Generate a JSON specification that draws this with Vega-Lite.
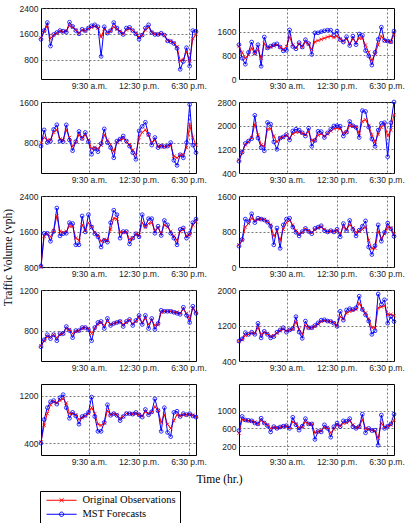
{
"$schema": "https://vega.github.io/schema/vega-lite/v6.json",
"background": "white",
"padding": {"left": 1, "top": 3, "right": 2, "bottom": 1},
"data": {"values": [
{"p":26,"i":0,"o":1480,"f":1430},{"p":26,"i":1,"o":1680,"f":1700},{"p":26,"i":2,"o":1850,"f":1950},{"p":26,"i":3,"o":1450,"f":1220},{"p":26,"i":4,"o":1560,"f":1580},{"p":26,"i":5,"o":1620,"f":1640},{"p":26,"i":6,"o":1680,"f":1700},{"p":26,"i":7,"o":1660,"f":1680},{"p":26,"i":8,"o":1700,"f":1650},{"p":26,"i":9,"o":1850,"f":1960},
{"p":26,"i":10,"o":1800,"f":1830},{"p":26,"i":11,"o":1720,"f":1700},{"p":26,"i":12,"o":1620,"f":1600},{"p":26,"i":13,"o":1720,"f":1740},{"p":26,"i":14,"o":1690,"f":1700},{"p":26,"i":15,"o":1760,"f":1780},{"p":26,"i":16,"o":1800,"f":1850},{"p":26,"i":17,"o":1830,"f":1880},{"p":26,"i":18,"o":1780,"f":1820},{"p":26,"i":19,"o":1500,"f":900},
{"p":26,"i":20,"o":1750,"f":1820},{"p":26,"i":21,"o":1640,"f":1620},{"p":26,"i":22,"o":1680,"f":1700},{"p":26,"i":23,"o":1820,"f":1950},{"p":26,"i":24,"o":1740,"f":1780},{"p":26,"i":25,"o":1680,"f":1650},{"p":26,"i":26,"o":1600,"f":1580},{"p":26,"i":27,"o":1720,"f":1780},{"p":26,"i":28,"o":1760,"f":1800},{"p":26,"i":29,"o":1700,"f":1700},
{"p":26,"i":30,"o":1620,"f":1600},{"p":26,"i":31,"o":1500,"f":1430},{"p":26,"i":32,"o":1560,"f":1560},{"p":26,"i":33,"o":1720,"f":1780},{"p":26,"i":34,"o":1800,"f":1880},{"p":26,"i":35,"o":1640,"f":1640},{"p":26,"i":36,"o":1590,"f":1580},{"p":26,"i":37,"o":1580,"f":1580},{"p":26,"i":38,"o":1600,"f":1620},{"p":26,"i":39,"o":1560,"f":1560},
{"p":26,"i":40,"o":1400,"f":1380},{"p":26,"i":41,"o":1370,"f":1360},{"p":26,"i":42,"o":1320,"f":1300},{"p":26,"i":43,"o":1200,"f":1150},{"p":26,"i":44,"o":760,"f":500},{"p":26,"i":45,"o":800,"f":740},{"p":26,"i":46,"o":1050,"f":1170},{"p":26,"i":47,"o":760,"f":600},{"p":26,"i":48,"o":1450,"f":1700},{"p":26,"i":49,"o":1580,"f":1680},
{"p":196,"i":0,"o":1100,"f":1160},{"p":196,"i":1,"o":900,"f":700},{"p":196,"i":2,"o":700,"f":500},{"p":196,"i":3,"o":820,"f":900},{"p":196,"i":4,"o":1050,"f":1250},{"p":196,"i":5,"o":860,"f":880},{"p":196,"i":6,"o":1000,"f":1160},{"p":196,"i":7,"o":700,"f":430},{"p":196,"i":8,"o":1200,"f":1420},{"p":196,"i":9,"o":1050,"f":1050},
{"p":196,"i":10,"o":1080,"f":1110},{"p":196,"i":11,"o":1120,"f":1160},{"p":196,"i":12,"o":1150,"f":1190},{"p":196,"i":13,"o":1080,"f":1080},{"p":196,"i":14,"o":1000,"f":950},{"p":196,"i":15,"o":1100,"f":970},{"p":196,"i":16,"o":1420,"f":1660},{"p":196,"i":17,"o":1150,"f":1100},{"p":196,"i":18,"o":1050,"f":1020},{"p":196,"i":19,"o":1180,"f":1230},
{"p":196,"i":20,"o":1080,"f":1080},{"p":196,"i":21,"o":1250,"f":1330},{"p":196,"i":22,"o":1180,"f":1200},{"p":196,"i":23,"o":1000,"f":830},{"p":196,"i":24,"o":1260,"f":1560},{"p":196,"i":25,"o":1300,"f":1560},{"p":196,"i":26,"o":1340,"f":1600},{"p":196,"i":27,"o":1380,"f":1630},{"p":196,"i":28,"o":1420,"f":1650},{"p":196,"i":29,"o":1450,"f":1650},
{"p":196,"i":30,"o":1400,"f":1500},{"p":196,"i":31,"o":1450,"f":1620},{"p":196,"i":32,"o":1350,"f":1330},{"p":196,"i":33,"o":1280,"f":1250},{"p":196,"i":34,"o":1350,"f":1430},{"p":196,"i":35,"o":1200,"f":1130},{"p":196,"i":36,"o":1350,"f":1450},{"p":196,"i":37,"o":1250,"f":1160},{"p":196,"i":38,"o":1380,"f":1520},{"p":196,"i":39,"o":1380,"f":1480},
{"p":196,"i":40,"o":1150,"f":960},{"p":196,"i":41,"o":900,"f":780},{"p":196,"i":42,"o":620,"f":470},{"p":196,"i":43,"o":850,"f":900},{"p":196,"i":44,"o":1150,"f":1340},{"p":196,"i":45,"o":1450,"f":1750},{"p":196,"i":46,"o":1300,"f":1300},{"p":196,"i":47,"o":1280,"f":1280},{"p":196,"i":48,"o":1250,"f":1260},{"p":196,"i":49,"o":1500,"f":1620},
{"p":17,"i":0,"o":800,"f":730},{"p":17,"i":1,"o":900,"f":1050},{"p":17,"i":2,"o":850,"f":800},{"p":17,"i":3,"o":850,"f":830},{"p":17,"i":4,"o":1000,"f":1060},{"p":17,"i":5,"o":1050,"f":1150},{"p":17,"i":6,"o":870,"f":830},{"p":17,"i":7,"o":850,"f":820},{"p":17,"i":8,"o":1050,"f":1150},{"p":17,"i":9,"o":900,"f":850},
{"p":17,"i":10,"o":720,"f":640},{"p":17,"i":11,"o":820,"f":820},{"p":17,"i":12,"o":950,"f":1020},{"p":17,"i":13,"o":880,"f":880},{"p":17,"i":14,"o":950,"f":1000},{"p":17,"i":15,"o":850,"f":820},{"p":17,"i":16,"o":680,"f":570},{"p":17,"i":17,"o":700,"f":680},{"p":17,"i":18,"o":680,"f":620},{"p":17,"i":19,"o":750,"f":780},
{"p":17,"i":20,"o":950,"f":1070},{"p":17,"i":21,"o":850,"f":800},{"p":17,"i":22,"o":760,"f":700},{"p":17,"i":23,"o":620,"f":500},{"p":17,"i":24,"o":800,"f":830},{"p":17,"i":25,"o":850,"f":870},{"p":17,"i":26,"o":880,"f":930},{"p":17,"i":27,"o":820,"f":830},{"p":17,"i":28,"o":760,"f":730},{"p":17,"i":29,"o":650,"f":600},
{"p":17,"i":30,"o":560,"f":470},{"p":17,"i":31,"o":900,"f":1030},{"p":17,"i":32,"o":1000,"f":1120},{"p":17,"i":33,"o":1050,"f":1200},{"p":17,"i":34,"o":950,"f":960},{"p":17,"i":35,"o":800,"f":750},{"p":17,"i":36,"o":850,"f":900},{"p":17,"i":37,"o":720,"f":700},{"p":17,"i":38,"o":740,"f":730},{"p":17,"i":39,"o":720,"f":720},
{"p":17,"i":40,"o":730,"f":730},{"p":17,"i":41,"o":750,"f":800},{"p":17,"i":42,"o":530,"f":450},{"p":17,"i":43,"o":500,"f":350},{"p":17,"i":44,"o":550,"f":560},{"p":17,"i":45,"o":560,"f":500},{"p":17,"i":46,"o":700,"f":800},{"p":17,"i":47,"o":1150,"f":1550},{"p":17,"i":48,"o":900,"f":750},{"p":17,"i":49,"o":750,"f":600},
{"p":183,"i":0,"o":850,"f":800},{"p":183,"i":1,"o":1100,"f":1100},{"p":183,"i":2,"o":1350,"f":1400},{"p":183,"i":3,"o":1450,"f":1480},{"p":183,"i":4,"o":1600,"f":1560},{"p":183,"i":5,"o":2050,"f":2350},{"p":183,"i":6,"o":1700,"f":1580},{"p":183,"i":7,"o":1350,"f":1260},{"p":183,"i":8,"o":1300,"f":1150},{"p":183,"i":9,"o":1880,"f":2110},
{"p":183,"i":10,"o":1900,"f":2050},{"p":183,"i":11,"o":1650,"f":1450},{"p":183,"i":12,"o":1450,"f":1200},{"p":183,"i":13,"o":1580,"f":1580},{"p":183,"i":14,"o":1600,"f":1620},{"p":183,"i":15,"o":1680,"f":1700},{"p":183,"i":16,"o":1580,"f":1520},{"p":183,"i":17,"o":1720,"f":1820},{"p":183,"i":18,"o":1780,"f":1880},{"p":183,"i":19,"o":1780,"f":1850},
{"p":183,"i":20,"o":1750,"f":1760},{"p":183,"i":21,"o":1700,"f":1650},{"p":183,"i":22,"o":1800,"f":1920},{"p":183,"i":23,"o":1500,"f":1300},{"p":183,"i":24,"o":1500,"f":1500},{"p":183,"i":25,"o":1680,"f":1810},{"p":183,"i":26,"o":1720,"f":1800},{"p":183,"i":27,"o":1650,"f":1600},{"p":183,"i":28,"o":1720,"f":1760},{"p":183,"i":29,"o":1820,"f":1880},
{"p":183,"i":30,"o":1900,"f":1990},{"p":183,"i":31,"o":1920,"f":2000},{"p":183,"i":32,"o":1900,"f":1980},{"p":183,"i":33,"o":1750,"f":1650},{"p":183,"i":34,"o":1780,"f":1780},{"p":183,"i":35,"o":2000,"f":2140},{"p":183,"i":36,"o":1980,"f":2000},{"p":183,"i":37,"o":1950,"f":1940},{"p":183,"i":38,"o":1750,"f":1600},{"p":183,"i":39,"o":2150,"f":2510},
{"p":183,"i":40,"o":2200,"f":2480},{"p":183,"i":41,"o":2000,"f":1950},{"p":183,"i":42,"o":1700,"f":1550},{"p":183,"i":43,"o":1450,"f":1300},{"p":183,"i":44,"o":1700,"f":1850},{"p":183,"i":45,"o":1950,"f":2080},{"p":183,"i":46,"o":2050,"f":2100},{"p":183,"i":47,"o":1650,"f":950},{"p":183,"i":48,"o":1850,"f":2100},{"p":183,"i":49,"o":2370,"f":2800},
{"p":232,"i":0,"o":800,"f":820},{"p":232,"i":1,"o":1500,"f":1560},{"p":232,"i":2,"o":1550,"f":1560},{"p":232,"i":3,"o":1480,"f":1380},{"p":232,"i":4,"o":1620,"f":1600},{"p":232,"i":5,"o":1950,"f":2130},{"p":232,"i":6,"o":1600,"f":1500},{"p":232,"i":7,"o":1580,"f":1550},{"p":232,"i":8,"o":1600,"f":1560},{"p":232,"i":9,"o":1720,"f":1800},
{"p":232,"i":10,"o":1720,"f":1780},{"p":232,"i":11,"o":1450,"f":1300},{"p":232,"i":12,"o":1400,"f":1300},{"p":232,"i":13,"o":1750,"f":1950},{"p":232,"i":14,"o":1620,"f":1590},{"p":232,"i":15,"o":1800,"f":1980},{"p":232,"i":16,"o":1700,"f":1700},{"p":232,"i":17,"o":1580,"f":1550},{"p":232,"i":18,"o":1520,"f":1480},{"p":232,"i":19,"o":1380,"f":1250},
{"p":232,"i":20,"o":1420,"f":1400},{"p":232,"i":21,"o":1400,"f":1360},{"p":232,"i":22,"o":1650,"f":1800},{"p":232,"i":23,"o":1900,"f":2080},{"p":232,"i":24,"o":1880,"f":1980},{"p":232,"i":25,"o":1580,"f":1450},{"p":232,"i":26,"o":1580,"f":1600},{"p":232,"i":27,"o":1590,"f":1600},{"p":232,"i":28,"o":1420,"f":1320},{"p":232,"i":29,"o":1450,"f":1450},
{"p":232,"i":30,"o":1550,"f":1550},{"p":232,"i":31,"o":1520,"f":1480},{"p":232,"i":32,"o":1800,"f":1980},{"p":232,"i":33,"o":1700,"f":1720},{"p":232,"i":34,"o":1780,"f":1890},{"p":232,"i":35,"o":1800,"f":1890},{"p":232,"i":36,"o":1620,"f":1560},{"p":232,"i":37,"o":1680,"f":1720},{"p":232,"i":38,"o":1560,"f":1510},{"p":232,"i":39,"o":1750,"f":1850},
{"p":232,"i":40,"o":1700,"f":1750},{"p":232,"i":41,"o":1600,"f":1560},{"p":232,"i":42,"o":1500,"f":1450},{"p":232,"i":43,"o":1400,"f":1300},{"p":232,"i":44,"o":1600,"f":1650},{"p":232,"i":45,"o":1650,"f":1680},{"p":232,"i":46,"o":1500,"f":1450},{"p":232,"i":47,"o":1520,"f":1560},{"p":232,"i":48,"o":1750,"f":1800},{"p":232,"i":49,"o":1820,"f":1880},
{"p":49,"i":0,"o":500,"f":470},{"p":49,"i":1,"o":600,"f":620},{"p":49,"i":2,"o":900,"f":1080},{"p":49,"i":3,"o":980,"f":1020},{"p":49,"i":4,"o":1100,"f":1200},{"p":49,"i":5,"o":1050,"f":1000},{"p":49,"i":6,"o":1070,"f":1100},{"p":49,"i":7,"o":1080,"f":1080},{"p":49,"i":8,"o":1070,"f":1060},{"p":49,"i":9,"o":1030,"f":1010},
{"p":49,"i":10,"o":950,"f":920},{"p":49,"i":11,"o":700,"f":500},{"p":49,"i":12,"o":800,"f":880},{"p":49,"i":13,"o":600,"f":420},{"p":49,"i":14,"o":850,"f":950},{"p":49,"i":15,"o":1000,"f":1080},{"p":49,"i":16,"o":1050,"f":1100},{"p":49,"i":17,"o":950,"f":900},{"p":49,"i":18,"o":820,"f":780},{"p":49,"i":19,"o":750,"f":700},
{"p":49,"i":20,"o":780,"f":800},{"p":49,"i":21,"o":850,"f":870},{"p":49,"i":22,"o":820,"f":800},{"p":49,"i":23,"o":780,"f":750},{"p":49,"i":24,"o":840,"f":870},{"p":49,"i":25,"o":880,"f":900},{"p":49,"i":26,"o":900,"f":930},{"p":49,"i":27,"o":850,"f":820},{"p":49,"i":28,"o":800,"f":790},{"p":49,"i":29,"o":810,"f":820},
{"p":49,"i":30,"o":800,"f":790},{"p":49,"i":31,"o":830,"f":850},{"p":49,"i":32,"o":750,"f":680},{"p":49,"i":33,"o":900,"f":980},{"p":49,"i":34,"o":850,"f":820},{"p":49,"i":35,"o":950,"f":1050},{"p":49,"i":36,"o":880,"f":850},{"p":49,"i":37,"o":780,"f":700},{"p":49,"i":38,"o":800,"f":830},{"p":49,"i":39,"o":850,"f":920},
{"p":49,"i":40,"o":900,"f":1040},{"p":49,"i":41,"o":600,"f":450},{"p":49,"i":42,"o":420,"f":280},{"p":49,"i":43,"o":420,"f":480},{"p":49,"i":44,"o":800,"f":950},{"p":49,"i":45,"o":650,"f":580},{"p":49,"i":46,"o":750,"f":780},{"p":49,"i":47,"o":900,"f":990},{"p":49,"i":48,"o":880,"f":860},{"p":49,"i":49,"o":750,"f":690},
{"p":166,"i":0,"o":650,"f":640},{"p":166,"i":1,"o":700,"f":710},{"p":166,"i":2,"o":740,"f":760},{"p":166,"i":3,"o":740,"f":720},{"p":166,"i":4,"o":760,"f":760},{"p":166,"i":5,"o":730,"f":700},{"p":166,"i":6,"o":760,"f":770},{"p":166,"i":7,"o":770,"f":770},{"p":166,"i":8,"o":820,"f":840},{"p":166,"i":9,"o":810,"f":800},
{"p":166,"i":10,"o":770,"f":730},{"p":166,"i":11,"o":790,"f":800},{"p":166,"i":12,"o":800,"f":800},{"p":166,"i":13,"o":820,"f":830},{"p":166,"i":14,"o":830,"f":830},{"p":166,"i":15,"o":820,"f":810},{"p":166,"i":16,"o":770,"f":700},{"p":166,"i":17,"o":820,"f":830},{"p":166,"i":18,"o":860,"f":880},{"p":166,"i":19,"o":880,"f":890},
{"p":166,"i":20,"o":850,"f":820},{"p":166,"i":21,"o":890,"f":920},{"p":166,"i":22,"o":860,"f":850},{"p":166,"i":23,"o":870,"f":870},{"p":166,"i":24,"o":880,"f":880},{"p":166,"i":25,"o":890,"f":890},{"p":166,"i":26,"o":860,"f":840},{"p":166,"i":27,"o":880,"f":890},{"p":166,"i":28,"o":900,"f":910},{"p":166,"i":29,"o":870,"f":850},
{"p":166,"i":30,"o":890,"f":900},{"p":166,"i":31,"o":930,"f":950},{"p":166,"i":32,"o":880,"f":860},{"p":166,"i":33,"o":920,"f":950},{"p":166,"i":34,"o":860,"f":820},{"p":166,"i":35,"o":900,"f":920},{"p":166,"i":36,"o":850,"f":810},{"p":166,"i":37,"o":860,"f":870},{"p":166,"i":38,"o":980,"f":1000},{"p":166,"i":39,"o":990,"f":990},
{"p":166,"i":40,"o":990,"f":990},{"p":166,"i":41,"o":990,"f":990},{"p":166,"i":42,"o":980,"f":980},{"p":166,"i":43,"o":980,"f":970},{"p":166,"i":44,"o":970,"f":960},{"p":166,"i":45,"o":1010,"f":1030},{"p":166,"i":46,"o":970,"f":950},{"p":166,"i":47,"o":920,"f":880},{"p":166,"i":48,"o":1020,"f":1040},{"p":166,"i":49,"o":980,"f":970},
{"p":193,"i":0,"o":840,"f":850},{"p":193,"i":1,"o":880,"f":900},{"p":193,"i":2,"o":980,"f":1040},{"p":193,"i":3,"o":1000,"f":1000},{"p":193,"i":4,"o":1030,"f":1050},{"p":193,"i":5,"o":1020,"f":1000},{"p":193,"i":6,"o":1150,"f":1250},{"p":193,"i":7,"o":1000,"f":920},{"p":193,"i":8,"o":1050,"f":1070},{"p":193,"i":9,"o":1020,"f":1000},
{"p":193,"i":10,"o":960,"f":920},{"p":193,"i":11,"o":970,"f":950},{"p":193,"i":12,"o":1030,"f":1050},{"p":193,"i":13,"o":1080,"f":1100},{"p":193,"i":14,"o":1120,"f":1150},{"p":193,"i":15,"o":1080,"f":1050},{"p":193,"i":16,"o":1100,"f":1100},{"p":193,"i":17,"o":1120,"f":1130},{"p":193,"i":18,"o":1280,"f":1400},{"p":193,"i":19,"o":1120,"f":1050},
{"p":193,"i":20,"o":1000,"f":910},{"p":193,"i":21,"o":1200,"f":1300},{"p":193,"i":22,"o":1150,"f":1150},{"p":193,"i":23,"o":1150,"f":1150},{"p":193,"i":24,"o":1180,"f":1200},{"p":193,"i":25,"o":1230,"f":1260},{"p":193,"i":26,"o":1290,"f":1320},{"p":193,"i":27,"o":1310,"f":1330},{"p":193,"i":28,"o":1300,"f":1300},{"p":193,"i":29,"o":1290,"f":1290},
{"p":193,"i":30,"o":1260,"f":1250},{"p":193,"i":31,"o":1200,"f":1180},{"p":193,"i":32,"o":1400,"f":1520},{"p":193,"i":33,"o":1350,"f":1320},{"p":193,"i":34,"o":1480,"f":1550},{"p":193,"i":35,"o":1520,"f":1580},{"p":193,"i":36,"o":1540,"f":1560},{"p":193,"i":37,"o":1560,"f":1600},{"p":193,"i":38,"o":1700,"f":1860},{"p":193,"i":39,"o":1580,"f":1560},
{"p":193,"i":40,"o":1480,"f":1440},{"p":193,"i":41,"o":1350,"f":1300},{"p":193,"i":42,"o":1150,"f":1000},{"p":193,"i":43,"o":1150,"f":1080},{"p":193,"i":44,"o":1600,"f":1910},{"p":193,"i":45,"o":1620,"f":1680},{"p":193,"i":46,"o":1650,"f":1780},{"p":193,"i":47,"o":1450,"f":1250},{"p":193,"i":48,"o":1450,"f":1400},{"p":193,"i":49,"o":1420,"f":1290},
{"p":439,"i":0,"o":420,"f":400},{"p":439,"i":1,"o":700,"f":800},{"p":439,"i":2,"o":900,"f":1000},{"p":439,"i":3,"o":1050,"f":1100},{"p":439,"i":4,"o":1100,"f":1120},{"p":439,"i":5,"o":1080,"f":1060},{"p":439,"i":6,"o":1120,"f":1170},{"p":439,"i":7,"o":1150,"f":1220},{"p":439,"i":8,"o":1080,"f":1000},{"p":439,"i":9,"o":900,"f":820},
{"p":439,"i":10,"o":900,"f":920},{"p":439,"i":11,"o":880,"f":860},{"p":439,"i":12,"o":800,"f":720},{"p":439,"i":13,"o":830,"f":850},{"p":439,"i":14,"o":860,"f":870},{"p":439,"i":15,"o":900,"f":920},{"p":439,"i":16,"o":1000,"f":1180},{"p":439,"i":17,"o":900,"f":850},{"p":439,"i":18,"o":720,"f":600},{"p":439,"i":19,"o":700,"f":600},
{"p":439,"i":20,"o":740,"f":750},{"p":439,"i":21,"o":950,"f":1050},{"p":439,"i":22,"o":880,"f":870},{"p":439,"i":23,"o":900,"f":900},{"p":439,"i":24,"o":880,"f":870},{"p":439,"i":25,"o":820,"f":780},{"p":439,"i":26,"o":850,"f":850},{"p":439,"i":27,"o":900,"f":900},{"p":439,"i":28,"o":900,"f":900},{"p":439,"i":29,"o":890,"f":890},
{"p":439,"i":30,"o":900,"f":920},{"p":439,"i":31,"o":880,"f":880},{"p":439,"i":32,"o":860,"f":840},{"p":439,"i":33,"o":930,"f":970},{"p":439,"i":34,"o":900,"f":880},{"p":439,"i":35,"o":920,"f":930},{"p":439,"i":36,"o":1020,"f":1150},{"p":439,"i":37,"o":950,"f":950},{"p":439,"i":38,"o":750,"f":600},{"p":439,"i":39,"o":880,"f":1000},
{"p":439,"i":40,"o":720,"f":580},{"p":439,"i":41,"o":650,"f":510},{"p":439,"i":42,"o":780,"f":920},{"p":439,"i":43,"o":880,"f":940},{"p":439,"i":44,"o":860,"f":850},{"p":439,"i":45,"o":880,"f":900},{"p":439,"i":46,"o":880,"f":880},{"p":439,"i":47,"o":880,"f":900},{"p":439,"i":48,"o":870,"f":860},{"p":439,"i":49,"o":850,"f":840},
{"p":269,"i":0,"o":490,"f":550},{"p":269,"i":1,"o":800,"f":870},{"p":269,"i":2,"o":780,"f":790},{"p":269,"i":3,"o":770,"f":780},{"p":269,"i":4,"o":760,"f":770},{"p":269,"i":5,"o":740,"f":720},{"p":269,"i":6,"o":700,"f":700},{"p":269,"i":7,"o":780,"f":830},{"p":269,"i":8,"o":730,"f":720},{"p":269,"i":9,"o":680,"f":660},
{"p":269,"i":10,"o":600,"f":520},{"p":269,"i":11,"o":620,"f":640},{"p":269,"i":12,"o":610,"f":600},{"p":269,"i":13,"o":620,"f":630},{"p":269,"i":14,"o":640,"f":650},{"p":269,"i":15,"o":650,"f":660},{"p":269,"i":16,"o":620,"f":600},{"p":269,"i":17,"o":750,"f":850},{"p":269,"i":18,"o":700,"f":680},{"p":269,"i":19,"o":620,"f":560},
{"p":269,"i":20,"o":630,"f":650},{"p":269,"i":21,"o":750,"f":820},{"p":269,"i":22,"o":700,"f":700},{"p":269,"i":23,"o":700,"f":700},{"p":269,"i":24,"o":500,"f":350},{"p":269,"i":25,"o":530,"f":530},{"p":269,"i":26,"o":550,"f":520},{"p":269,"i":27,"o":620,"f":680},{"p":269,"i":28,"o":620,"f":600},{"p":269,"i":29,"o":500,"f":400},
{"p":269,"i":30,"o":580,"f":640},{"p":269,"i":31,"o":680,"f":720},{"p":269,"i":32,"o":650,"f":640},{"p":269,"i":33,"o":720,"f":770},{"p":269,"i":34,"o":730,"f":760},{"p":269,"i":35,"o":770,"f":820},{"p":269,"i":36,"o":680,"f":640},{"p":269,"i":37,"o":620,"f":600},{"p":269,"i":38,"o":630,"f":640},{"p":269,"i":39,"o":800,"f":920},
{"p":269,"i":40,"o":600,"f":500},{"p":269,"i":41,"o":580,"f":600},{"p":269,"i":42,"o":560,"f":550},{"p":269,"i":43,"o":540,"f":560},{"p":269,"i":44,"o":380,"f":220},{"p":269,"i":45,"o":720,"f":900},{"p":269,"i":46,"o":620,"f":600},{"p":269,"i":47,"o":640,"f":650},{"p":269,"i":48,"o":680,"f":700},{"p":269,"i":49,"o":780,"f":920}
]},
"transform": [{"fold": ["o", "f"], "as": ["series", "v"]}],
"columns": 2,
"spacing": {"row": 23, "column": 43},
"bounds": "flush",
"resolve": {"scale": {"x": "independent", "y": "independent", "color": "shared", "shape": "shared"}, "legend": {"color": "shared", "shape": "shared"}},
"concat": [
{"width":155,"height":71,"transform":[{"filter":"datum.p == 26"}],
 "encoding":{"x":{"field":"i","type":"quantitative","scale":{"domain":[0,49],"nice":false,"zero":false},"axis":{"values":[15.13,30.88,46.64],"labelExpr":"datum.value < 20 ? '9:30 a.m.' : datum.value < 40 ? '12:30 p.m.' : '6:30 p.m.'","title":null}},
  "y":{"field":"v","type":"quantitative","scale":{"domain":[200,2400],"nice":false,"zero":false},"axis":{"values":[800,1600,2400],"title":null}}},
 "layer":[
  {"mark":{"type":"point","filled":false,"opacity":0},"encoding":{"color":{"field":"series","type":"nominal","scale":{"domain":["o","f"],"range":["#ff0000","#0000ff"]},"legend":{"title":null,"orient":"none","legendX":-1,"legendY":483,"direction":"vertical","labelExpr":"datum.value == 'o' ? 'Original Observations\u00a0\u00a0\u00a0\u00a0\u00a0\u00a0\u00a0\u00a0' : 'MST Forecasts'"}},
    "shape":{"field":"series","type":"nominal","scale":{"domain":["o","f"],"range":["M-1,0L10,0M3.75,-0.7L5.25,0.7M3.75,0.7L5.25,-0.7","M-1,0L10,0M5.3,0A0.8,0.8,0,1,1,3.7,0A0.8,0.8,0,1,1,5.3,0"]},"legend":{"title":null,"orient":"none","legendX":-1,"legendY":483,"direction":"vertical","labelExpr":"datum.value == 'o' ? 'Original Observations\u00a0\u00a0\u00a0\u00a0\u00a0\u00a0\u00a0\u00a0' : 'MST Forecasts'"}}}},
  {"mark":{"type":"line","strokeWidth":1},"encoding":{"color":{"field":"series","type":"nominal"}}},
  {"transform":[{"filter":"datum.series == 'o'"}],"mark":{"type":"point","filled":false,"size":12,"strokeWidth":0.8,"opacity":1,"shape":"M-1,-1L1,1M-1,1L1,-1"},"encoding":{"color":{"field":"series","type":"nominal"}}},
  {"transform":[{"filter":"datum.series == 'f'"}],"mark":{"type":"point","filled":false,"size":14,"strokeWidth":0.8,"opacity":1,"shape":"circle"},"encoding":{"color":{"field":"series","type":"nominal"}}},
  {"data":{"values":[{"t":"TCS 26"}]},"mark":{"type":"text","font":"Liberation Serif","fontSize":11.5,"align":"left","baseline":"middle"},"encoding":{"x":{"datum":1.3},"y":{"datum":420},"text":{"field":"t"},"color":{"value":"black"}}}
 ]},
{"width":155,"height":71,"transform":[{"filter":"datum.p == 196"}],
 "encoding":{"x":{"field":"i","type":"quantitative","scale":{"domain":[0,49],"nice":false,"zero":false},"axis":{"values":[15.13,30.88,46.64],"labelExpr":"datum.value < 20 ? '9:30 a.m.' : datum.value < 40 ? '12:30 p.m.' : '6:30 p.m.'","title":null}},
  "y":{"field":"v","type":"quantitative","scale":{"domain":[0,2400],"nice":false,"zero":false},"axis":{"values":[0,800,1600],"title":null}}},
 "layer":[
  {"mark":{"type":"line","strokeWidth":1},"encoding":{"color":{"field":"series","type":"nominal"}}},
  {"transform":[{"filter":"datum.series == 'o'"}],"mark":{"type":"point","filled":false,"size":12,"strokeWidth":0.8,"opacity":1,"shape":"M-1,-1L1,1M-1,1L1,-1"},"encoding":{"color":{"field":"series","type":"nominal"}}},
  {"transform":[{"filter":"datum.series == 'f'"}],"mark":{"type":"point","filled":false,"size":14,"strokeWidth":0.8,"opacity":1,"shape":"circle"},"encoding":{"color":{"field":"series","type":"nominal"}}},
  {"data":{"values":[{"t":"TCS 196"}]},"mark":{"type":"text","font":"Liberation Serif","fontSize":11.5,"align":"left","baseline":"middle"},"encoding":{"x":{"datum":1.0},"y":{"datum":2100},"text":{"field":"t"},"color":{"value":"black"}}}
 ]},
{"width":155,"height":71,"transform":[{"filter":"datum.p == 17"}],
 "encoding":{"x":{"field":"i","type":"quantitative","scale":{"domain":[0,49],"nice":false,"zero":false},"axis":{"values":[15.13,30.88,46.64],"labelExpr":"datum.value < 20 ? '9:30 a.m.' : datum.value < 40 ? '12:30 p.m.' : '6:30 p.m.'","title":null}},
  "y":{"field":"v","type":"quantitative","scale":{"domain":[200,1600],"nice":false,"zero":false},"axis":{"values":[800,1600],"title":null}}},
 "layer":[
  {"mark":{"type":"line","strokeWidth":1},"encoding":{"color":{"field":"series","type":"nominal"}}},
  {"transform":[{"filter":"datum.series == 'o'"}],"mark":{"type":"point","filled":false,"size":12,"strokeWidth":0.8,"opacity":1,"shape":"M-1,-1L1,1M-1,1L1,-1"},"encoding":{"color":{"field":"series","type":"nominal"}}},
  {"transform":[{"filter":"datum.series == 'f'"}],"mark":{"type":"point","filled":false,"size":14,"strokeWidth":0.8,"opacity":1,"shape":"circle"},"encoding":{"color":{"field":"series","type":"nominal"}}},
  {"data":{"values":[{"t":"TCS 17"}]},"mark":{"type":"text","font":"Liberation Serif","fontSize":11.5,"align":"left","baseline":"middle"},"encoding":{"x":{"datum":1.3},"y":{"datum":340},"text":{"field":"t"},"color":{"value":"black"}}}
 ]},
{"width":155,"height":71,"transform":[{"filter":"datum.p == 183"}],
 "encoding":{"x":{"field":"i","type":"quantitative","scale":{"domain":[0,49],"nice":false,"zero":false},"axis":{"values":[15.13,30.88,46.64],"labelExpr":"datum.value < 20 ? '9:30 a.m.' : datum.value < 40 ? '12:30 p.m.' : '6:30 p.m.'","title":null}},
  "y":{"field":"v","type":"quantitative","scale":{"domain":[400,2800],"nice":false,"zero":false},"axis":{"values":[400,1200,2000,2800],"title":null}}},
 "layer":[
  {"mark":{"type":"line","strokeWidth":1},"encoding":{"color":{"field":"series","type":"nominal"}}},
  {"transform":[{"filter":"datum.series == 'o'"}],"mark":{"type":"point","filled":false,"size":12,"strokeWidth":0.8,"opacity":1,"shape":"M-1,-1L1,1M-1,1L1,-1"},"encoding":{"color":{"field":"series","type":"nominal"}}},
  {"transform":[{"filter":"datum.series == 'f'"}],"mark":{"type":"point","filled":false,"size":14,"strokeWidth":0.8,"opacity":1,"shape":"circle"},"encoding":{"color":{"field":"series","type":"nominal"}}},
  {"data":{"values":[{"t":"TCS 183"}]},"mark":{"type":"text","font":"Liberation Serif","fontSize":11.5,"align":"left","baseline":"middle"},"encoding":{"x":{"datum":2.0},"y":{"datum":600},"text":{"field":"t"},"color":{"value":"black"}}}
 ]},
{"width":155,"height":71,"transform":[{"filter":"datum.p == 232"}],
 "encoding":{"x":{"field":"i","type":"quantitative","scale":{"domain":[0,49],"nice":false,"zero":false},"axis":{"values":[15.13,30.88,46.64],"labelExpr":"datum.value < 20 ? '9:30 a.m.' : datum.value < 40 ? '12:30 p.m.' : '6:30 p.m.'","title":null}},
  "y":{"field":"v","type":"quantitative","scale":{"domain":[800,2400],"nice":false,"zero":false},"axis":{"values":[800,1600,2400],"title":"Traffic Volume (vph)","titleX":-30,"titleY":61,"titleAngle":270,"titleAlign":"center","titleBaseline":"alphabetic"}}},
 "layer":[
  {"mark":{"type":"line","strokeWidth":1},"encoding":{"color":{"field":"series","type":"nominal"}}},
  {"transform":[{"filter":"datum.series == 'o'"}],"mark":{"type":"point","filled":false,"size":12,"strokeWidth":0.8,"opacity":1,"shape":"M-1,-1L1,1M-1,1L1,-1"},"encoding":{"color":{"field":"series","type":"nominal"}}},
  {"transform":[{"filter":"datum.series == 'f'"}],"mark":{"type":"point","filled":false,"size":14,"strokeWidth":0.8,"opacity":1,"shape":"circle"},"encoding":{"color":{"field":"series","type":"nominal"}}},
  {"data":{"values":[{"t":"TCS 232"}]},"mark":{"type":"text","font":"Liberation Serif","fontSize":11.5,"align":"right","baseline":"middle"},"encoding":{"x":{"datum":47.7},"y":{"datum":1000},"text":{"field":"t"},"color":{"value":"black"}}}
 ]},
{"width":155,"height":71,"transform":[{"filter":"datum.p == 49"}],
 "encoding":{"x":{"field":"i","type":"quantitative","scale":{"domain":[0,49],"nice":false,"zero":false},"axis":{"values":[15.13,30.88,46.64],"labelExpr":"datum.value < 20 ? '9:30 a.m.' : datum.value < 40 ? '12:30 p.m.' : '6:30 p.m.'","title":null}},
  "y":{"field":"v","type":"quantitative","scale":{"domain":[0,1600],"nice":false,"zero":false},"axis":{"values":[0,800,1600],"title":null}}},
 "layer":[
  {"mark":{"type":"line","strokeWidth":1},"encoding":{"color":{"field":"series","type":"nominal"}}},
  {"transform":[{"filter":"datum.series == 'o'"}],"mark":{"type":"point","filled":false,"size":12,"strokeWidth":0.8,"opacity":1,"shape":"M-1,-1L1,1M-1,1L1,-1"},"encoding":{"color":{"field":"series","type":"nominal"}}},
  {"transform":[{"filter":"datum.series == 'f'"}],"mark":{"type":"point","filled":false,"size":14,"strokeWidth":0.8,"opacity":1,"shape":"circle"},"encoding":{"color":{"field":"series","type":"nominal"}}},
  {"data":{"values":[{"t":"TCS 49"}]},"mark":{"type":"text","font":"Liberation Serif","fontSize":11.5,"align":"left","baseline":"middle"},"encoding":{"x":{"datum":1.5},"y":{"datum":140},"text":{"field":"t"},"color":{"value":"black"}}}
 ]},
{"width":155,"height":71,"transform":[{"filter":"datum.p == 166"}],
 "encoding":{"x":{"field":"i","type":"quantitative","scale":{"domain":[0,49],"nice":false,"zero":false},"axis":{"values":[15.13,30.88,46.64],"labelExpr":"datum.value < 20 ? '9:30 a.m.' : datum.value < 40 ? '12:30 p.m.' : '6:30 p.m.'","title":null}},
  "y":{"field":"v","type":"quantitative","scale":{"domain":[500,1200],"nice":false,"zero":false},"axis":{"values":[800,1200],"title":null}}},
 "layer":[
  {"mark":{"type":"line","strokeWidth":1},"encoding":{"color":{"field":"series","type":"nominal"}}},
  {"transform":[{"filter":"datum.series == 'o'"}],"mark":{"type":"point","filled":false,"size":12,"strokeWidth":0.8,"opacity":1,"shape":"M-1,-1L1,1M-1,1L1,-1"},"encoding":{"color":{"field":"series","type":"nominal"}}},
  {"transform":[{"filter":"datum.series == 'f'"}],"mark":{"type":"point","filled":false,"size":14,"strokeWidth":0.8,"opacity":1,"shape":"circle"},"encoding":{"color":{"field":"series","type":"nominal"}}},
  {"data":{"values":[{"t":"TCS 166"}]},"mark":{"type":"text","font":"Liberation Serif","fontSize":11.5,"align":"left","baseline":"middle"},"encoding":{"x":{"datum":0.8},"y":{"datum":1100},"text":{"field":"t"},"color":{"value":"black"}}}
 ]},
{"width":155,"height":71,"transform":[{"filter":"datum.p == 193"}],
 "encoding":{"x":{"field":"i","type":"quantitative","scale":{"domain":[0,49],"nice":false,"zero":false},"axis":{"values":[15.13,30.88,46.64],"labelExpr":"datum.value < 20 ? '9:30 a.m.' : datum.value < 40 ? '12:30 p.m.' : '6:30 p.m.'","title":null}},
  "y":{"field":"v","type":"quantitative","scale":{"domain":[400,2000],"nice":false,"zero":false},"axis":{"values":[400,1200,2000],"title":null}}},
 "layer":[
  {"mark":{"type":"line","strokeWidth":1},"encoding":{"color":{"field":"series","type":"nominal"}}},
  {"transform":[{"filter":"datum.series == 'o'"}],"mark":{"type":"point","filled":false,"size":12,"strokeWidth":0.8,"opacity":1,"shape":"M-1,-1L1,1M-1,1L1,-1"},"encoding":{"color":{"field":"series","type":"nominal"}}},
  {"transform":[{"filter":"datum.series == 'f'"}],"mark":{"type":"point","filled":false,"size":14,"strokeWidth":0.8,"opacity":1,"shape":"circle"},"encoding":{"color":{"field":"series","type":"nominal"}}},
  {"data":{"values":[{"t":"TCS 193"}]},"mark":{"type":"text","font":"Liberation Serif","fontSize":11.5,"align":"left","baseline":"middle"},"encoding":{"x":{"datum":1.3},"y":{"datum":1840},"text":{"field":"t"},"color":{"value":"black"}}}
 ]},
{"width":155,"height":71,"transform":[{"filter":"datum.p == 439"}],
 "encoding":{"x":{"field":"i","type":"quantitative","scale":{"domain":[0,49],"nice":false,"zero":false},"axis":{"values":[15.13,30.88,46.64],"labelExpr":"datum.value < 20 ? '9:30 a.m.' : datum.value < 40 ? '12:30 p.m.' : '6:30 p.m.'","title":"Time (hr.)","titleX":178,"titleY":24,"titleAlign":"center","titleBaseline":"middle"}},
  "y":{"field":"v","type":"quantitative","scale":{"domain":[200,1400],"nice":false,"zero":false},"axis":{"values":[400,1200],"title":null}}},
 "layer":[
  {"mark":{"type":"line","strokeWidth":1},"encoding":{"color":{"field":"series","type":"nominal"}}},
  {"transform":[{"filter":"datum.series == 'o'"}],"mark":{"type":"point","filled":false,"size":12,"strokeWidth":0.8,"opacity":1,"shape":"M-1,-1L1,1M-1,1L1,-1"},"encoding":{"color":{"field":"series","type":"nominal"}}},
  {"transform":[{"filter":"datum.series == 'f'"}],"mark":{"type":"point","filled":false,"size":14,"strokeWidth":0.8,"opacity":1,"shape":"circle"},"encoding":{"color":{"field":"series","type":"nominal"}}},
  {"data":{"values":[{"t":"TCS 439"}]},"mark":{"type":"text","font":"Liberation Serif","fontSize":11.5,"align":"right","baseline":"middle"},"encoding":{"x":{"datum":47.7},"y":{"datum":335},"text":{"field":"t"},"color":{"value":"black"}}}
 ]},
{"width":155,"height":71,"transform":[{"filter":"datum.p == 269"}],
 "encoding":{"x":{"field":"i","type":"quantitative","scale":{"domain":[0,49],"nice":false,"zero":false},"axis":{"values":[15.13,30.88,46.64],"labelExpr":"datum.value < 20 ? '9:30 a.m.' : datum.value < 40 ? '12:30 p.m.' : '6:30 p.m.'","title":null}},
  "y":{"field":"v","type":"quantitative","scale":{"domain":[0,1600],"nice":false,"zero":false},"axis":{"values":[200,600,1000],"title":null}}},
 "layer":[
  {"mark":{"type":"line","strokeWidth":1},"encoding":{"color":{"field":"series","type":"nominal"}}},
  {"transform":[{"filter":"datum.series == 'o'"}],"mark":{"type":"point","filled":false,"size":12,"strokeWidth":0.8,"opacity":1,"shape":"M-1,-1L1,1M-1,1L1,-1"},"encoding":{"color":{"field":"series","type":"nominal"}}},
  {"transform":[{"filter":"datum.series == 'f'"}],"mark":{"type":"point","filled":false,"size":14,"strokeWidth":0.8,"opacity":1,"shape":"circle"},"encoding":{"color":{"field":"series","type":"nominal"}}},
  {"data":{"values":[{"t":"TCS 269"}]},"mark":{"type":"text","font":"Liberation Serif","fontSize":11.5,"align":"left","baseline":"middle"},"encoding":{"x":{"datum":1.3},"y":{"datum":1420},"text":{"field":"t"},"color":{"value":"black"}}}
 ]}
],
"config": {
 "numberFormat": "d",
 "view": {"stroke": "black", "strokeWidth": 1},
 "axis": {"domain": false, "ticks": false, "grid": true, "gridDash": [2, 2], "gridColor": "#555", "gridWidth": 0.8, "labelFont": "Liberation Sans", "labelFontSize": 8.5, "labelColor": "#222", "labelPadding": 3, "labelOverlap": false, "labelFlush": false, "titleFont": "Liberation Serif", "titleFontSize": 11.5, "titleFontWeight": "normal", "titleColor": "black"},
 "axisX": {"labelPadding": 2},
 "legend": {"strokeColor": "black", "fillColor": "white", "padding": 4, "labelFont": "Liberation Serif", "labelFontSize": 10.5, "labelColor": "black", "symbolSize": 30, "symbolStrokeWidth": 1, "symbolOpacity": 1, "labelOffset": 28, "rowPadding": 3}
}
}
